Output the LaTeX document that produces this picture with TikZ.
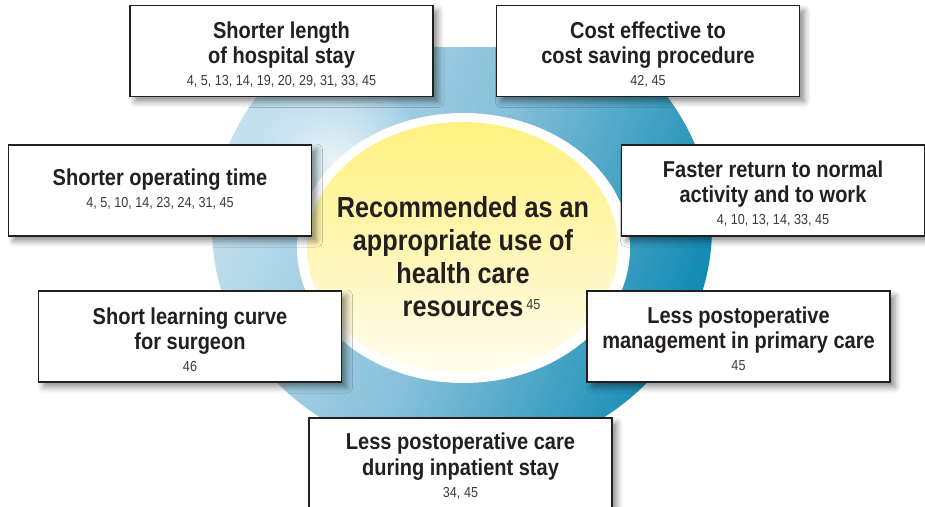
\documentclass[tikz,border=0pt]{standalone}
\usepackage{fontspec}
\setmainfont{Liberation Sans}[FakeStretch=0.87]
\usepackage[usenames,dvipsnames]{xcolor}
\usetikzlibrary{shadows.blur,fadings}

\definecolor{RingLight}{HTML}{C2E0EE}
\definecolor{RingMid}{HTML}{86C0DA}
\definecolor{RingDark}{HTML}{128BB3}
\definecolor{CoreTop}{HTML}{FFF27F}
\definecolor{CoreMid}{HTML}{FFF6B4}
\definecolor{CoreBottom}{HTML}{FFFDF0}
\definecolor{BoxLine}{HTML}{231F20}
\definecolor{RefText}{HTML}{3A3A3A}

\tikzfading[name=RingGlow, inner color=transparent!0, outer color=transparent!100]

\newcommand{\TitleFont}{\fontsize{23}{25.5}\selectfont\bfseries}
\newcommand{\RefFont}{\fontsize{14.5}{17}\selectfont\mdseries\color{RefText}}

\begin{document}
\begin{tikzpicture}[x=1pt, y=-1pt]
  \tikzset{BoxStyle/.style  = {draw=BoxLine, line width=1.3pt, fill=white,
                               minimum width=303pt, minimum height=91pt,
                               blur shadow={shadow xshift=5pt, shadow yshift=-5pt,
                                            shadow blur radius=6pt, shadow opacity=45}},
           TextStyle/.style = {align=center, inner sep=0pt, anchor=north,
                               text=BoxLine, font=\TitleFont}}

  \useasboundingbox (0,0) rectangle (925,506);

%ring
\begin{scope}
  \clip (0,47) rectangle (925,506);
  \shade[top color=RingLight, bottom color=RingDark, middle color=RingMid,
         shading angle=70]
    (462,228) ellipse [x radius=250, y radius=230];
  \fill[white, opacity=0.75, path fading=RingGlow] (335,160) ellipse [x radius=95, y radius=85];
\end{scope}

%core
\fill[white] (463.5,248) ellipse [x radius=166.5, y radius=135];
\shade[top color=CoreTop, bottom color=CoreBottom, middle color=CoreMid]
  (462.5,247.5) ellipse [x radius=155.5, y radius=125.5];
\node[align=center, inner sep=0pt, anchor=north, text=BoxLine,
      font=\fontsize{29}{33}\selectfont\bfseries] (core) at (463,196)
  {Recommended as an\\appropriate use of\\health care\\%
   resources\rlap{\hspace{3pt}\raisebox{7pt}{\RefFont 45}}};

%part hospital stay
\node[BoxStyle] (stay) at (281.5,51) {};
\node[TextStyle] (stay text) at ([yshift=-16.5pt]stay.north)
  {Shorter length\\of hospital stay\\[-3.5pt]{\RefFont 4, 5, 13, 14, 19, 20, 29, 31, 33, 45}};

%part cost
\node[BoxStyle] (cost) at (648,51) {};
\node[TextStyle] (cost text) at ([yshift=-16.5pt]cost.north)
  {Cost effective to\\cost saving procedure\\[-3.5pt]{\RefFont 42, 45}};

%part operating time
\node[BoxStyle] (time) at (160,190.5) {};
\node[TextStyle] (time text) at ([yshift=-24pt]time.north)
  {Shorter operating time\\[-3.5pt]{\RefFont 4, 5, 10, 14, 23, 24, 31, 45}};

%part return to work
\node[BoxStyle] (work) at (773,190.5) {};
\node[TextStyle] (work text) at ([yshift=-16pt]work.north)
  {Faster return to normal\\activity and to work\\[-3.5pt]{\RefFont 4, 10, 13, 14, 33, 45}};

%part learning curve
\node[BoxStyle] (curve) at (190,336.5) {};
\node[TextStyle] (curve text) at ([yshift=-17pt]curve.north)
  {Short learning curve\\for surgeon\\[-3.5pt]{\RefFont 46}};

%part primary care
\node[BoxStyle] (primary) at (738.5,336.5) {};
\node[TextStyle] (primary text) at ([yshift=-16pt]primary.north)
  {Less postoperative\\management in primary care\\[-3.5pt]{\RefFont 45}};

%part inpatient stay
\node[BoxStyle] (inpatient) at (460.5,463.5) {};
\node[TextStyle] (inpatient text) at ([yshift=-15.5pt]inpatient.north)
  {Less postoperative care\\during inpatient stay\\[-3.5pt]{\RefFont 34, 45}};

\end{tikzpicture}
\end{document}
